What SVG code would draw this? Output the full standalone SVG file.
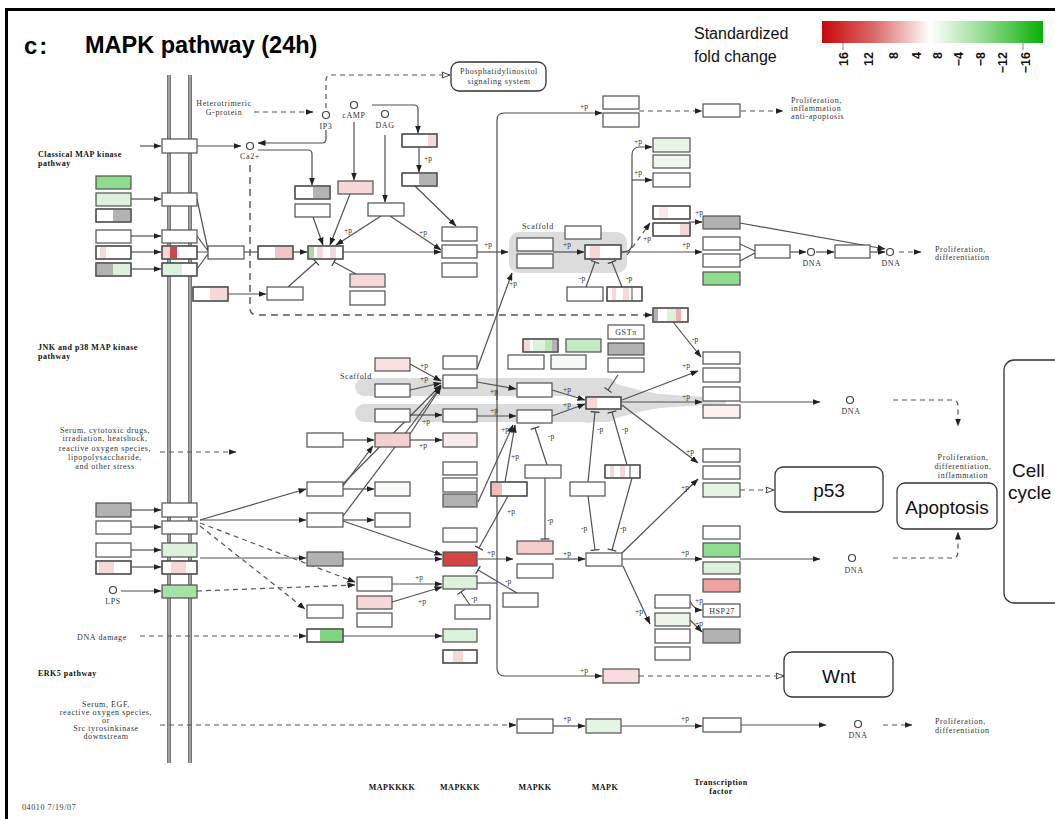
<svg xmlns="http://www.w3.org/2000/svg" width="1055" height="819" viewBox="0 0 1055 819">
<style>
.b{fill:#fff;stroke:#505050;stroke-width:1.2}
.o{fill:none;stroke:#505050;stroke-width:1.2}
.pk{fill:#f7d8d8}
.pk2{fill:#eeb0b0}
.rd{fill:#d44646}
.lg{fill:#ddf2dd}
.g{fill:#8edc8e}
.gy{fill:#b2b2b2}
.ln{fill:none;stroke:#505050;stroke-width:1.2}
.a{marker-end:url(#ar)}
.tb{marker-end:url(#tb)}
.oa{marker-end:url(#oa)}
.ds{fill:none;stroke:#555;stroke-width:1.4;stroke-dasharray:7 5}
.ds2{fill:none;stroke:#555;stroke-width:1.2;stroke-dasharray:5 4}
.t{font-family:"Liberation Serif",serif;font-size:8px;letter-spacing:0.6px;fill:#333}
.tm{font-family:"Liberation Serif",serif;font-size:8px;letter-spacing:0.6px;fill:#333;text-anchor:middle}
.tbd{font-family:"Liberation Serif",serif;font-size:8px;letter-spacing:0.5px;font-weight:bold;fill:#111}
.p{font-family:"Liberation Serif",serif;font-size:7.5px;fill:#333}
.big{font-family:"Liberation Sans",Arial,sans-serif;font-size:19px;fill:#111}
.cpd{fill:#fff;stroke:#444;stroke-width:1.2}
.sc{fill:#dcdcdc}
.box2{fill:#fff;stroke:#333;stroke-width:1.3}
</style>
<defs>
<linearGradient id="fc" x1="0" x2="1" y1="0" y2="0">
<stop offset="0" stop-color="#c80808"/>
<stop offset="0.24" stop-color="#dc6c6c"/>
<stop offset="0.49" stop-color="#ffffff"/>
<stop offset="0.74" stop-color="#90da90"/>
<stop offset="1" stop-color="#06b006"/>
</linearGradient>
<marker id="ar" viewBox="0 0 8 6" refX="7.5" refY="3" markerWidth="8" markerHeight="6" markerUnits="userSpaceOnUse" orient="auto"><path d="M0,0 L8,3 L0,6 z" fill="#222"/></marker>
<marker id="oa" viewBox="0 0 10 10" refX="9" refY="5" markerWidth="10" markerHeight="10" markerUnits="userSpaceOnUse" orient="auto"><path d="M1,2 L9,5 L1,8 Q3,5 1,2 z" fill="#fff" stroke="#444" stroke-width="1"/></marker>
<marker id="tb" viewBox="-1 -5 2 10" refX="0" refY="0" markerWidth="2" markerHeight="10" markerUnits="userSpaceOnUse" orient="auto"><path d="M0,-4.5 V4.5" stroke="#444" stroke-width="1.3"/></marker>
</defs>

<rect width="1055" height="819" fill="#fff"/>
<g opacity="0.999">
<path d="M6.5,830 V9.5 H1060" fill="none" stroke="#000" stroke-width="3"/>

<!-- heading and colour key -->
<g id="title">
<text x="24" y="54" font-family="Liberation Sans,Arial,sans-serif" font-size="24" font-weight="bold" letter-spacing="2" fill="#000">c:</text>
<text x="85" y="53" font-family="Liberation Sans,Arial,sans-serif" font-size="23.5" font-weight="bold" fill="#000">MAPK pathway (24h)</text>
</g>
<g id="legend" font-family="Liberation Sans,Arial,sans-serif">
<text x="694" y="39" font-size="16" fill="#111">Standardized</text>
<text x="694" y="62" font-size="16" fill="#111">fold change</text>
<rect x="822" y="21" width="221" height="22" fill="url(#fc)"/>
<path d="M843,43 V50 M1023,43 V50" stroke="#888" stroke-width="1"/>
<g font-size="12.5" font-weight="bold" fill="#111" text-anchor="end">
<text transform="translate(848,52) rotate(-90)">16</text>
<text transform="translate(873,52) rotate(-90)">12</text>
<text transform="translate(898,52) rotate(-90)">8</text>
<text transform="translate(921,52) rotate(-90)">4</text>
<text transform="translate(942,52) rotate(-90)">8</text>
<text transform="translate(963,52) rotate(-90)">−4</text>
<text transform="translate(985,52) rotate(-90)">−8</text>
<text transform="translate(1007,52) rotate(-90)">−12</text>
<text transform="translate(1030,52) rotate(-90)">−16</text>
</g>
</g>

<!-- scaffold shading -->
<g id="scaffolds">
<rect class="sc" x="509" y="232" width="118" height="41" rx="10"/>
<rect class="sc" x="355" y="378" width="262" height="18" rx="9"/>
<rect class="sc" x="355" y="404" width="262" height="18" rx="9"/>
<path class="sc" d="M585,379 C615,381 635,391 660,394 L726,398.5 L726,403.5 L660,408 C635,411 615,421 585,423 Z"/>
</g>

<!-- cell membrane -->
<g id="membrane">
<path d="M169,75 V763 M190,75 V763" stroke="#777" stroke-width="4" fill="none"/>
<path d="M169,75 V763 M190,75 V763" stroke="#bdbdbd" stroke-width="1.2" fill="none"/>
</g>

<!-- connectors -->
<g id="connectors">
<!-- classical MAP kinase pathway -->
<path class="ln a" d="M140,146 H161"/>
<path class="ln a" d="M197,146 H241"/>
<path class="ln a" d="M326,130 V139 Q326,143 322,143 H258"/>
<path class="ln a" d="M258,150 H308 Q312,150 312,154 V185"/>
<path class="ds2 a" d="M254,112 H313"/>
<path class="ds2 oa" d="M326,108 V80 Q326,75 331,75 H450"/>
<path class="ln a" d="M354,122 V180"/>
<path class="ln a" d="M385,135 V202"/>
<path class="ln a" d="M372,105 H414 Q418,105 418,109 V133"/>
<path class="ln a" d="M419,147 V172"/>
<path class="ln a" d="M415,186 L456,226"/>
<path class="ln a" d="M131,199 H161"/>
<path class="ln a" d="M131,236 H161"/>
<path class="ln a" d="M131,252 H161"/>
<path class="ln a" d="M131,269 H161"/>
<path class="ln" d="M197,199 L208,250 M197,236 L208,251 M197,252 H208 M197,269 L208,254"/>
<path class="ln" d="M244,252 H258"/>
<path class="ln a" d="M293,252 H307"/>
<path class="ln a" d="M313,217 L323,245"/>
<path class="ln a" d="M350,194 L330,245"/>
<path class="ln a" d="M381,216 L336,245"/>
<path class="ln a" d="M390,216 L441,250"/>
<path class="ln a" d="M343,252 H441"/>
<path class="ln tb" d="M288,287 L316,262"/>
<path class="ln tb" d="M356,274 L334,262"/>
<path class="ln a" d="M228,294 H266"/>
<path class="ds" d="M250,165 V308 Q250,315 257,315 H646"/>
<path class="ln a" d="M646,315 H652"/>
<path class="ln a" d="M477,252 H508"/>
<path class="ln a" d="M497,400 V120 Q497,113 504,113 H602"/>
<path class="ln a" d="M497,390 V668 Q497,676 505,676 H602"/>
<path class="ds2 a" d="M639,111 H702"/>
<path class="ds2 a" d="M741,111 H783"/>
<path class="ln a" d="M553,252 H584"/>
<path class="ln a" d="M621,252 H702"/>
<path class="ln a" d="M621,252 Q632,252 632,244 V155 Q632,147 640,147 H652"/>
<path class="ln a" d="M632,180 H652"/>
<path class="ds2 a" d="M627,255 L650,223"/>
<path class="ln a" d="M689,222 H702"/>
<path class="ln a" d="M740,223 L885,249"/>
<path class="ln" d="M740,244 L755,251 M740,261 L755,253"/>
<path class="ln a" d="M790,252 H806"/>
<path class="ln a" d="M816,252 H834"/>
<path class="ln a" d="M870,252 H885"/>
<path class="ds2 a" d="M899,252 H921"/>
<path class="ln tb" d="M586,287 L595,262"/>
<path class="ln tb" d="M622,287 L612,262"/>
<path class="ln a" d="M477,369 L512,273"/>

<!-- JNK and p38 MAP kinase pathway -->
<path class="ds2 a" d="M160,452 H236"/>
<path class="ln a" d="M131,510 H161"/>
<path class="ln a" d="M131,527 H161"/>
<path class="ln a" d="M131,550 H161"/>
<path class="ln a" d="M131,567 H161"/>
<path class="ln a" d="M121,591 H161"/>
<path class="ln a" d="M200,520 L306,489"/>
<path class="ln a" d="M200,520 H306"/>
<path class="ln a" d="M200,558 H306"/>
<path class="ds2 a" d="M200,523 L355,582"/>
<path class="ds2 a" d="M200,526 L305,609"/>
<path class="ds2 a" d="M197,591 L355,585"/>
<path class="ds2 a" d="M140,636 H306"/>
<path class="ln a" d="M343,559 H442"/>
<path class="ln a" d="M343,489 H374"/>
<path class="ln a" d="M343,520 H374"/>
<path class="ln a" d="M343,521 L442,555"/>
<path class="ln a" d="M343,486 L373,446"/>
<path class="ln a" d="M343,440 H374"/>
<path class="ln a" d="M410,364 L441,381"/>
<path class="ln a" d="M410,390 L441,383"/>
<path class="ln a" d="M343,484 L441,385"/>
<path class="ln a" d="M343,516 L441,386"/>
<path class="ln a" d="M410,434 L441,387"/>
<path class="ln a" d="M410,415 H442"/>
<path class="ln a" d="M410,440 H442"/>
<path class="ln a" d="M477,382 L516,389"/>
<path class="ln a" d="M477,416 H516"/>
<path class="ln a" d="M552,390 L585,400"/>
<path class="ln a" d="M552,416 L585,404"/>
<path class="ln tb" d="M618,375 L608,390"/>
<path class="ln a" d="M505,482 L515,425"/>
<path class="ln a" d="M478,502 L513,425"/>
<path class="ln tb" d="M508,496 L479,548"/>
<path class="ln tb" d="M547,465 L535,428"/>
<path class="ln tb" d="M545,478 L545,539"/>
<path class="ln tb" d="M588,482 L595,412"/>
<path class="ln tb" d="M627,465 L612,412"/>
<path class="ln tb" d="M588,496 L595,550"/>
<path class="ln tb" d="M632,478 L612,550"/>
<path class="ln a" d="M478,559 H513"/>
<path class="ln a" d="M555,559 H585"/>
<path class="ln tb" d="M517,593 L478,570"/>
<path class="ln tb" d="M470,605 L461,592"/>
<path class="ln a" d="M392,584 H442"/>
<path class="ln a" d="M392,602 L442,587"/>
<path class="ln" d="M477,583 H497"/>
<path class="ln a" d="M343,636 H442"/>
<path class="ln a" d="M622,400 L698,371"/>
<path class="ln a" d="M622,402 H702"/>
<path class="ln a" d="M622,405 L698,463"/>
<path class="ln a" d="M673,322 L701,357"/>
<path class="ln a" d="M740,402 H820"/>
<path class="ds2 a" d="M893,400 H952 Q958,400 958,406 V426"/>
<path class="ln a" d="M622,553 L698,479"/>
<path class="ds2 oa" d="M740,490 H774"/>
<path class="ln a" d="M622,559 H702"/>
<path class="ln a" d="M740,559 H820"/>
<path class="ds2 a" d="M893,558 H952 Q958,558 958,552 V532"/>
<path class="ln a" d="M623,566 L650,624"/>
<path class="ln a" d="M690,601 Q694,610 702,610"/>
<path class="ln a" d="M690,620 L702,632"/>
<path class="ds2 oa" d="M639,676 H784"/>

<!-- ERK5 pathway -->
<path class="ds2 a" d="M160,725 H516"/>
<path class="ln a" d="M553,726 H585"/>
<path class="ln a" d="M621,726 H702"/>
<path class="ln a" d="M741,725 H826"/>
<path class="ds2 a" d="M883,725 H912"/>
</g>

<!-- compounds -->
<g id="cpd_ip3"><circle class="cpd" cx="326" cy="115" r="3.5"/><text class="tm" x="326" y="129">IP3</text></g>
<g id="cpd_camp"><circle class="cpd" cx="354" cy="105" r="3.5"/><text class="tm" x="354" y="118">cAMP</text></g>
<g id="cpd_dag"><circle class="cpd" cx="385" cy="114" r="3.5"/><text class="tm" x="385" y="128">DAG</text></g>
<g id="cpd_ca"><circle class="cpd" cx="250" cy="146" r="3.5"/><text class="tm" x="250" y="159">Ca2+</text></g>
<g id="cpd_lps"><circle class="cpd" cx="113" cy="590" r="3.5"/><text class="tm" x="113" y="604">LPS</text></g>
<g id="dna1"><circle class="cpd" cx="811" cy="252" r="3.5"/><text class="tm" x="812" y="266">DNA</text></g>
<g id="dna2"><circle class="cpd" cx="890" cy="252" r="3.5"/><text class="tm" x="891" y="266">DNA</text></g>
<g id="dna3"><circle class="cpd" cx="850" cy="400" r="3.5"/><text class="tm" x="851" y="414">DNA</text></g>
<g id="dna4"><circle class="cpd" cx="852" cy="558" r="3.5"/><text class="tm" x="854" y="573">DNA</text></g>
<g id="dna5"><circle class="cpd" cx="858" cy="724" r="3.5"/><text class="tm" x="858" y="738">DNA</text></g>

<!-- membrane receptors and ligands -->
<g id="m1"><rect class="b" x="162" y="139" width="35" height="14"/></g>
<g id="m2"><rect class="b" x="162" y="193" width="35" height="13"/></g>
<g id="m3"><rect class="b" x="162" y="230" width="35" height="13"/></g>
<g id="m4"><rect class="b" x="162" y="246" width="35" height="13"/><rect class="pk" x="163" y="247" width="7" height="11"/><rect class="rd" x="170" y="247" width="7" height="11"/><rect class="o" x="162" y="246" width="35" height="13"/></g>
<g id="m5"><rect class="b" x="162" y="263" width="35" height="13"/><rect class="lg" x="163" y="264" width="19" height="11"/><rect class="o" x="162" y="263" width="35" height="13"/></g>
<g id="m6"><rect class="b" x="162" y="503" width="35" height="14"/></g>
<g id="m7"><rect class="b" x="162" y="521" width="35" height="13"/></g>
<g id="m8"><rect class="b lg" x="162" y="543" width="35" height="14"/></g>
<g id="m9"><rect class="b" x="162" y="561" width="35" height="13"/><rect class="pk" x="171" y="562" width="15" height="11"/><rect class="o" x="162" y="561" width="35" height="13"/></g>
<g id="m10"><rect class="b" x="162" y="585" width="35" height="13" style="fill:#a6e2a6"/></g>

<g id="l1"><rect class="b g" x="96" y="176" width="35" height="13"/></g>
<g id="l2"><rect class="b lg" x="96" y="193" width="35" height="13"/></g>
<g id="l3"><rect class="b" x="96" y="209" width="35" height="13"/><rect class="gy" x="113" y="210" width="17" height="11"/><rect class="o" x="96" y="209" width="35" height="13"/></g>
<g id="l4"><rect class="b" x="96" y="230" width="35" height="13"/></g>
<g id="l5"><rect class="b" x="96" y="246" width="35" height="13"/><rect class="pk" x="100" y="247" width="6" height="11"/><rect class="o" x="96" y="246" width="35" height="13"/></g>
<g id="l6"><rect class="b" x="96" y="263" width="35" height="13"/><rect class="gy" x="97" y="264" width="16" height="11"/><rect class="lg" x="113" y="264" width="17" height="11"/><rect class="o" x="96" y="263" width="35" height="13"/></g>
<g id="l7"><rect class="b gy" x="96" y="503" width="35" height="14"/></g>
<g id="l8"><rect class="b" x="96" y="521" width="35" height="13"/></g>
<g id="l9"><rect class="b" x="96" y="543" width="35" height="14"/></g>
<g id="l10"><rect class="b" x="96" y="561" width="35" height="13"/><rect class="pk" x="99" y="562" width="15" height="11"/><rect class="o" x="96" y="561" width="35" height="13"/></g>

<!-- classical MAP kinase pathway nodes -->
<g id="e1"><rect class="b" x="208" y="246" width="36" height="13"/></g>
<g id="e2"><rect class="b" x="258" y="246" width="35" height="13"/><rect class="pk" x="275" y="247" width="17" height="11" style="fill:#f2c4c4"/><rect class="o" x="258" y="246" width="35" height="13"/></g>
<g id="e3"><rect class="b" x="308" y="246" width="35" height="13"/><rect x="309" y="247" width="5" height="11" fill="#a8dca8"/><rect class="pk" x="317" y="247" width="6" height="11"/><rect class="pk" x="330" y="247" width="6" height="11"/><rect class="o" x="308" y="246" width="35" height="13"/></g>
<g id="e4"><rect class="b" x="295" y="186" width="35" height="13"/><rect class="gy" x="313" y="187" width="16" height="11"/><rect class="o" x="295" y="186" width="35" height="13"/></g>
<g id="e5"><rect class="b" x="295" y="204" width="35" height="13"/></g>
<g id="e6"><rect class="b pk" x="338" y="181" width="35" height="13"/></g>
<g id="e7"><rect class="b" x="368" y="203" width="36" height="13"/></g>
<g id="e8"><rect class="b" x="402" y="134" width="35" height="13"/><rect class="pk" x="428" y="135" width="8" height="11"/><rect class="o" x="402" y="134" width="35" height="13"/></g>
<g id="e9"><rect class="b" x="402" y="173" width="35" height="13"/><rect class="gy" x="419" y="174" width="17" height="11"/><rect class="o" x="402" y="173" width="35" height="13"/></g>
<g id="e10"><rect class="b" x="442" y="227" width="35" height="14"/></g>
<g id="e11"><rect class="b" x="442" y="245" width="35" height="13"/></g>
<g id="e12"><rect class="b" x="442" y="263" width="35" height="14"/></g>
<g id="e13"><rect class="b pk" x="350" y="274" width="35" height="13"/></g>
<g id="e14"><rect class="b" x="350" y="291" width="35" height="14"/></g>
<g id="e15"><rect class="b" x="193" y="287" width="35" height="14"/><rect class="pk" x="210" y="288" width="17" height="12"/><rect class="o" x="193" y="287" width="35" height="14"/></g>
<g id="e16"><rect class="b" x="267" y="287" width="36" height="13"/></g>
<g id="s1"><rect class="b" x="517" y="238" width="36" height="13"/></g>
<g id="s2"><rect class="b" x="517" y="254" width="36" height="14"/></g>
<g id="s3"><rect class="b" x="565" y="226" width="36" height="13"/></g>
<g id="s4"><rect class="b" x="585" y="245" width="36" height="14"/><rect class="pk" x="590" y="246" width="10" height="12"/><rect class="o" x="585" y="245" width="36" height="14"/></g>
<g id="e17"><rect class="b" x="567" y="287" width="36" height="14"/></g>
<g id="e18"><rect class="b" x="607" y="287" width="35" height="14"/><rect class="pk" x="612" y="288" width="4" height="12"/><rect class="pk" x="623" y="288" width="6" height="12"/><path d="M632,287 V301" stroke="#505050" stroke-width="1"/><rect class="o" x="607" y="287" width="35" height="14"/></g>
<g id="e19"><rect class="b" x="603" y="96" width="36" height="13"/></g>
<g id="e20"><rect class="b" x="603" y="113" width="36" height="14"/></g>
<g id="e21"><rect class="b" x="703" y="104" width="37" height="13"/></g>
<g id="e22"><rect class="b" x="653" y="138" width="37" height="14" style="fill:#e6f5e6"/></g>
<g id="e23"><rect class="b" x="653" y="155" width="37" height="13" style="fill:#eef8ee"/></g>
<g id="e24"><rect class="b" x="653" y="173" width="37" height="14"/></g>
<g id="e25"><rect class="b" x="653" y="206" width="37" height="13"/><rect x="659" y="207" width="9" height="11" fill="#fbeaea"/><rect class="o" x="653" y="206" width="37" height="13"/></g>
<g id="e26"><rect class="b" x="653" y="223" width="37" height="13"/><rect class="pk" x="680" y="224" width="9" height="11"/><rect class="o" x="653" y="223" width="37" height="13"/></g>
<g id="e27"><rect class="b gy" x="703" y="216" width="37" height="13"/></g>
<g id="e28"><rect class="b" x="703" y="237" width="37" height="13"/></g>
<g id="e29"><rect class="b" x="703" y="254" width="37" height="13"/></g>
<g id="e30"><rect class="b g" x="703" y="272" width="37" height="13"/></g>
<g id="e31"><rect class="b" x="755" y="245" width="35" height="13"/></g>
<g id="e32"><rect class="b" x="835" y="245" width="35" height="13"/></g>
<g id="e33"><rect class="b" x="653" y="308" width="35" height="14"/><rect class="gy" x="654" y="309" width="4" height="12"/><rect class="lg" x="667" y="309" width="9" height="12"/><rect class="pk2" x="676" y="309" width="5" height="12"/><rect class="o" x="653" y="308" width="35" height="14"/></g>
<g id="pi_system"><rect class="box2" x="451" y="62" width="95" height="29" rx="8"/><text class="tm" x="499" y="74" font-size="7.5">Phosphatidylinositol</text><text class="tm" x="499" y="84" font-size="7.5">signaling system</text></g>

<!-- JNK and p38 MAP kinase pathway nodes -->
<g id="gst"><rect class="b" x="608" y="325" width="36" height="14"/><text class="tm" x="626" y="335">GSTπ</text></g>
<g id="j1"><rect class="b gy" x="608" y="343" width="36" height="12"/></g>
<g id="j2"><rect class="b" x="608" y="358" width="36" height="14"/></g>
<g id="j3"><rect class="b" x="523" y="339" width="35" height="13"/><rect class="pk" x="524" y="340" width="6" height="11"/><rect class="lg" x="533" y="340" width="12" height="11"/><rect x="545" y="340" width="7" height="11" fill="#b8e4b8"/><rect class="gy" x="552" y="340" width="5" height="11"/><rect class="o" x="523" y="339" width="35" height="13"/></g>
<g id="j4"><rect class="b" x="566" y="339" width="35" height="13" style="fill:#c4ebc4"/></g>
<g id="j5"><rect class="b" x="508" y="355" width="36" height="14"/></g>
<g id="j6"><rect class="b" x="551" y="355" width="35" height="14" style="fill:#f6faf6"/></g>
<g id="a1"><rect class="b" x="375" y="358" width="35" height="13" style="fill:#f8e0e0"/></g>
<g id="a2"><rect class="b" x="375" y="384" width="35" height="13"/></g>
<g id="a3"><rect class="b" x="375" y="409" width="35" height="13"/></g>
<g id="a4"><rect class="b" x="375" y="433" width="35" height="14" style="fill:#f5d0d0"/></g>
<g id="a5"><rect class="b" x="375" y="482" width="35" height="14" style="fill:#f8fbf8"/></g>
<g id="a6"><rect class="b" x="375" y="513" width="35" height="14"/></g>
<g id="o1"><rect class="b" x="307" y="433" width="36" height="14"/></g>
<g id="o2"><rect class="b" x="307" y="482" width="36" height="14"/></g>
<g id="o3"><rect class="b" x="307" y="513" width="36" height="14"/></g>
<g id="o4"><rect class="b gy" x="307" y="552" width="36" height="14"/></g>
<g id="o5"><rect class="b" x="307" y="605" width="36" height="13"/></g>
<g id="o6"><rect class="b" x="307" y="629" width="36" height="13"/><rect x="320" y="630" width="22" height="11" fill="#7fd67f"/><rect class="o" x="307" y="629" width="36" height="13"/></g>
<g id="q1"><rect class="b" x="357" y="577" width="35" height="14"/></g>
<g id="q2"><rect class="b pk" x="357" y="596" width="35" height="13"/></g>
<g id="q3"><rect class="b" x="357" y="613" width="35" height="14"/></g>
<g id="b1"><rect class="b" x="443" y="356" width="34" height="13"/></g>
<g id="b2"><rect class="b" x="443" y="375" width="34" height="13"/></g>
<g id="b3"><rect class="b" x="443" y="409" width="34" height="13"/></g>
<g id="b4"><rect class="b" x="443" y="433" width="34" height="14" style="fill:#fbecec"/></g>
<g id="b5"><rect class="b" x="443" y="462" width="34" height="13"/></g>
<g id="b6"><rect class="b" x="443" y="478" width="34" height="14"/></g>
<g id="b7"><rect class="b gy" x="443" y="494" width="34" height="13"/></g>
<g id="b8"><rect class="b" x="443" y="528" width="34" height="14"/></g>
<g id="b9"><rect class="b rd" x="443" y="552" width="34" height="14"/></g>
<g id="b10"><rect class="b lg" x="443" y="576" width="34" height="13"/></g>
<g id="b11"><rect class="b lg" x="443" y="629" width="34" height="13"/></g>
<g id="b12"><rect class="b" x="443" y="650" width="34" height="13"/><rect class="pk" x="453" y="651" width="10" height="11"/><rect class="o" x="443" y="650" width="34" height="13"/></g>
<g id="b13"><rect class="b" x="455" y="605" width="35" height="14"/></g>
<g id="c1"><rect class="b" x="517" y="383" width="35" height="14"/></g>
<g id="c2"><rect class="b" x="517" y="410" width="35" height="13"/></g>
<g id="c3"><rect class="b" x="491" y="482" width="36" height="14"/><rect x="492" y="483" width="10" height="12" fill="#f0bcbc"/><rect class="o" x="491" y="482" width="36" height="14"/></g>
<g id="c4"><rect class="b" x="525" y="465" width="36" height="13"/></g>
<g id="c5"><rect class="b" x="570" y="482" width="35" height="14"/></g>
<g id="c6"><rect class="b" x="605" y="465" width="35" height="13"/><rect class="pk" x="610" y="466" width="4" height="11"/><rect class="pk" x="620" y="466" width="5" height="11"/><path d="M630,465 V478" stroke="#505050" stroke-width="1"/><rect class="o" x="605" y="465" width="35" height="13"/></g>
<g id="c7"><rect class="b" x="517" y="541" width="36" height="13" style="fill:#f5cccc"/></g>
<g id="c8"><rect class="b" x="517" y="564" width="36" height="14"/></g>
<g id="c9"><rect class="b" x="503" y="593" width="35" height="14"/></g>
<g id="k1"><rect class="b" x="586" y="397" width="35" height="12"/><rect class="pk" x="587" y="398" width="10" height="10"/><rect class="o" x="586" y="397" width="35" height="12"/></g>
<g id="k2"><rect class="b" x="586" y="553" width="36" height="13"/></g>
<g id="r1"><rect class="b" x="703" y="352" width="37" height="12"/></g>
<g id="r2"><rect class="b" x="703" y="368" width="37" height="14"/></g>
<g id="r3"><rect class="b" x="703" y="387" width="37" height="14"/></g>
<g id="r4"><rect class="b" x="703" y="405" width="37" height="13" style="fill:#fcefef"/></g>
<g id="r5"><rect class="b" x="703" y="449" width="37" height="13"/></g>
<g id="r6"><rect class="b" x="703" y="466" width="37" height="13"/></g>
<g id="r7"><rect class="b" x="703" y="483" width="37" height="14" style="fill:#e6f4e6"/></g>
<g id="r8"><rect class="b" x="703" y="526" width="37" height="13"/></g>
<g id="r9"><rect class="b g" x="703" y="543" width="37" height="14"/></g>
<g id="r10"><rect class="b lg" x="703" y="562" width="37" height="12"/></g>
<g id="r11"><rect class="b" x="703" y="579" width="37" height="13" style="fill:#eea2a2"/></g>
<g id="r12"><rect class="b" x="703" y="604" width="37" height="13"/><text class="tm" x="722" y="613.5">HSP27</text></g>
<g id="r13"><rect class="b gy" x="703" y="629" width="37" height="14"/></g>
<g id="t1"><rect class="b" x="655" y="595" width="35" height="13"/></g>
<g id="t2"><rect class="b" x="655" y="613" width="35" height="13" style="fill:#eaf6ea"/></g>
<g id="t3"><rect class="b" x="655" y="629" width="35" height="14"/></g>
<g id="t4"><rect class="b" x="655" y="647" width="35" height="13"/></g>
<g id="w1"><rect class="b" x="603" y="669" width="36" height="14" style="fill:#f8dcdc"/></g>
<g id="z1"><rect class="b" x="517" y="719" width="36" height="14"/></g>
<g id="z2"><rect class="b" x="586" y="719" width="35" height="14" style="fill:#e4f4e4"/></g>
<g id="z3"><rect class="b" x="703" y="718" width="38" height="14"/></g>

<!-- linked pathways -->
<g id="p53"><rect class="box2" x="775" y="467" width="108" height="45" rx="8"/><text class="big" x="829" y="497" text-anchor="middle" font-size="18">p53</text></g>
<g id="apoptosis"><rect class="box2" x="897" y="483" width="100" height="46" rx="8"/><text class="big" x="947" y="514" text-anchor="middle">Apoptosis</text></g>
<g id="cellcycle"><rect class="box2" x="1004" y="360" width="80" height="243" rx="10"/><text class="big" x="1012" y="477">Cell</text><text class="big" x="1008" y="499">cycle</text></g>
<g id="wnt"><rect class="box2" x="784" y="652" width="109" height="45" rx="8"/><text class="big" x="839" y="683" text-anchor="middle" font-size="20">Wnt</text></g>

<!-- section and stimulus labels -->
<g id="labels">
<text class="tbd" x="38" y="157">Classical MAP kinase</text>
<text class="tbd" x="38" y="166">pathway</text>
<text class="tbd" x="38" y="350">JNK and p38 MAP kinase</text>
<text class="tbd" x="38" y="359">pathway</text>
<text class="tbd" x="38" y="676">ERK5 pathway</text>
<text class="tm" x="224" y="106">Heterotrimeric</text>
<text class="tm" x="224" y="115">G-protein</text>
<text class="t" x="522" y="229">Scaffold</text>
<text class="t" x="340" y="379">Scaffold</text>
<text class="t" x="791" y="103">Proliferation,</text>
<text class="t" x="791" y="111">inflammation</text>
<text class="t" x="791" y="119">anti-apoptosis</text>
<text class="t" x="935" y="252">Proliferation,</text>
<text class="t" x="935" y="260">differentiation</text>
<text class="tm" x="105" y="433">Serum, cytotoxic drugs,</text>
<text class="tm" x="105" y="441">irradiation, heatshock,</text>
<text class="tm" x="105" y="451">reactive oxygen species,</text>
<text class="tm" x="105" y="460">lipopolysaccharide,</text>
<text class="tm" x="105" y="469">and other stress</text>
<text class="tm" x="102" y="640">DNA damage</text>
<text class="tm" x="963" y="460">Proliferation,</text>
<text class="tm" x="963" y="469">differentiation,</text>
<text class="tm" x="963" y="478">inflammation</text>
<text class="tm" x="106" y="707">Serum, EGF,</text>
<text class="tm" x="106" y="715">reactive oxygen species,</text>
<text class="tm" x="106" y="723">or</text>
<text class="tm" x="106" y="731">Src tyrosinkinase</text>
<text class="tm" x="106" y="739">downstream</text>
<text class="t" x="935" y="724">Proliferation,</text>
<text class="t" x="935" y="733">differentiation</text>
<text class="tbd" x="392" y="790" text-anchor="middle" font-size="8.5">MAPKKKK</text>
<text class="tbd" x="460" y="790" text-anchor="middle" font-size="8.5">MAPKKK</text>
<text class="tbd" x="535" y="790" text-anchor="middle" font-size="8.5">MAPKK</text>
<text class="tbd" x="605" y="790" text-anchor="middle" font-size="8.5">MAPK</text>
<text class="tbd" x="721" y="785" text-anchor="middle">Transcription</text>
<text class="tbd" x="721" y="794" text-anchor="middle">factor</text>
<text class="t" x="22" y="810" font-size="8.5" letter-spacing="0.8">04010  7/19/07</text>
</g>

<!-- phosphorylation marks -->
<g id="plabels" class="p">
<text x="424" y="161">+p</text><text x="344" y="233">+p</text><text x="419" y="235">+p</text>
<text x="484" y="247">+p</text><text x="563" y="247">+p</text><text x="580" y="109">+p</text>
<text x="580" y="673">+p</text><text x="634" y="144">+p</text><text x="634" y="175">+p</text>
<text x="643" y="241">+p</text><text x="682" y="247">+p</text><text x="695" y="215">+p</text>
<text x="579" y="281">-p</text><text x="626" y="281">-p</text><text x="509" y="286">+p</text>
<text x="420" y="368">+p</text><text x="420" y="381">+p</text><text x="422" y="424">+p</text>
<text x="419" y="448">+p</text><text x="490" y="394">+p</text><text x="490" y="413">+p</text>
<text x="563" y="392">+p</text><text x="563" y="407">+p</text><text x="501" y="432">+p</text>
<text x="511" y="459">+p</text><text x="507" y="514">+p</text><text x="548" y="439">-p</text>
<text x="547" y="523">-p</text><text x="597" y="432">-p</text><text x="622" y="432">-p</text>
<text x="581" y="531">-p</text><text x="620" y="531">-p</text><text x="487" y="555">+p</text>
<text x="563" y="556">+p</text><text x="505" y="584">-p</text><text x="471" y="601">-p</text>
<text x="415" y="580">+p</text><text x="418" y="604">+p</text><text x="682" y="368">+p</text>
<text x="682" y="399">+p</text><text x="686" y="454">+p</text><text x="692" y="342">-p</text>
<text x="681" y="490">+p</text><text x="681" y="555">+p</text><text x="635" y="614">+p</text>
<text x="695" y="603">+p</text><text x="695" y="626">+p</text><text x="563" y="721">+p</text>
<text x="681" y="721">+p</text>
</g>
</g>
</svg>
